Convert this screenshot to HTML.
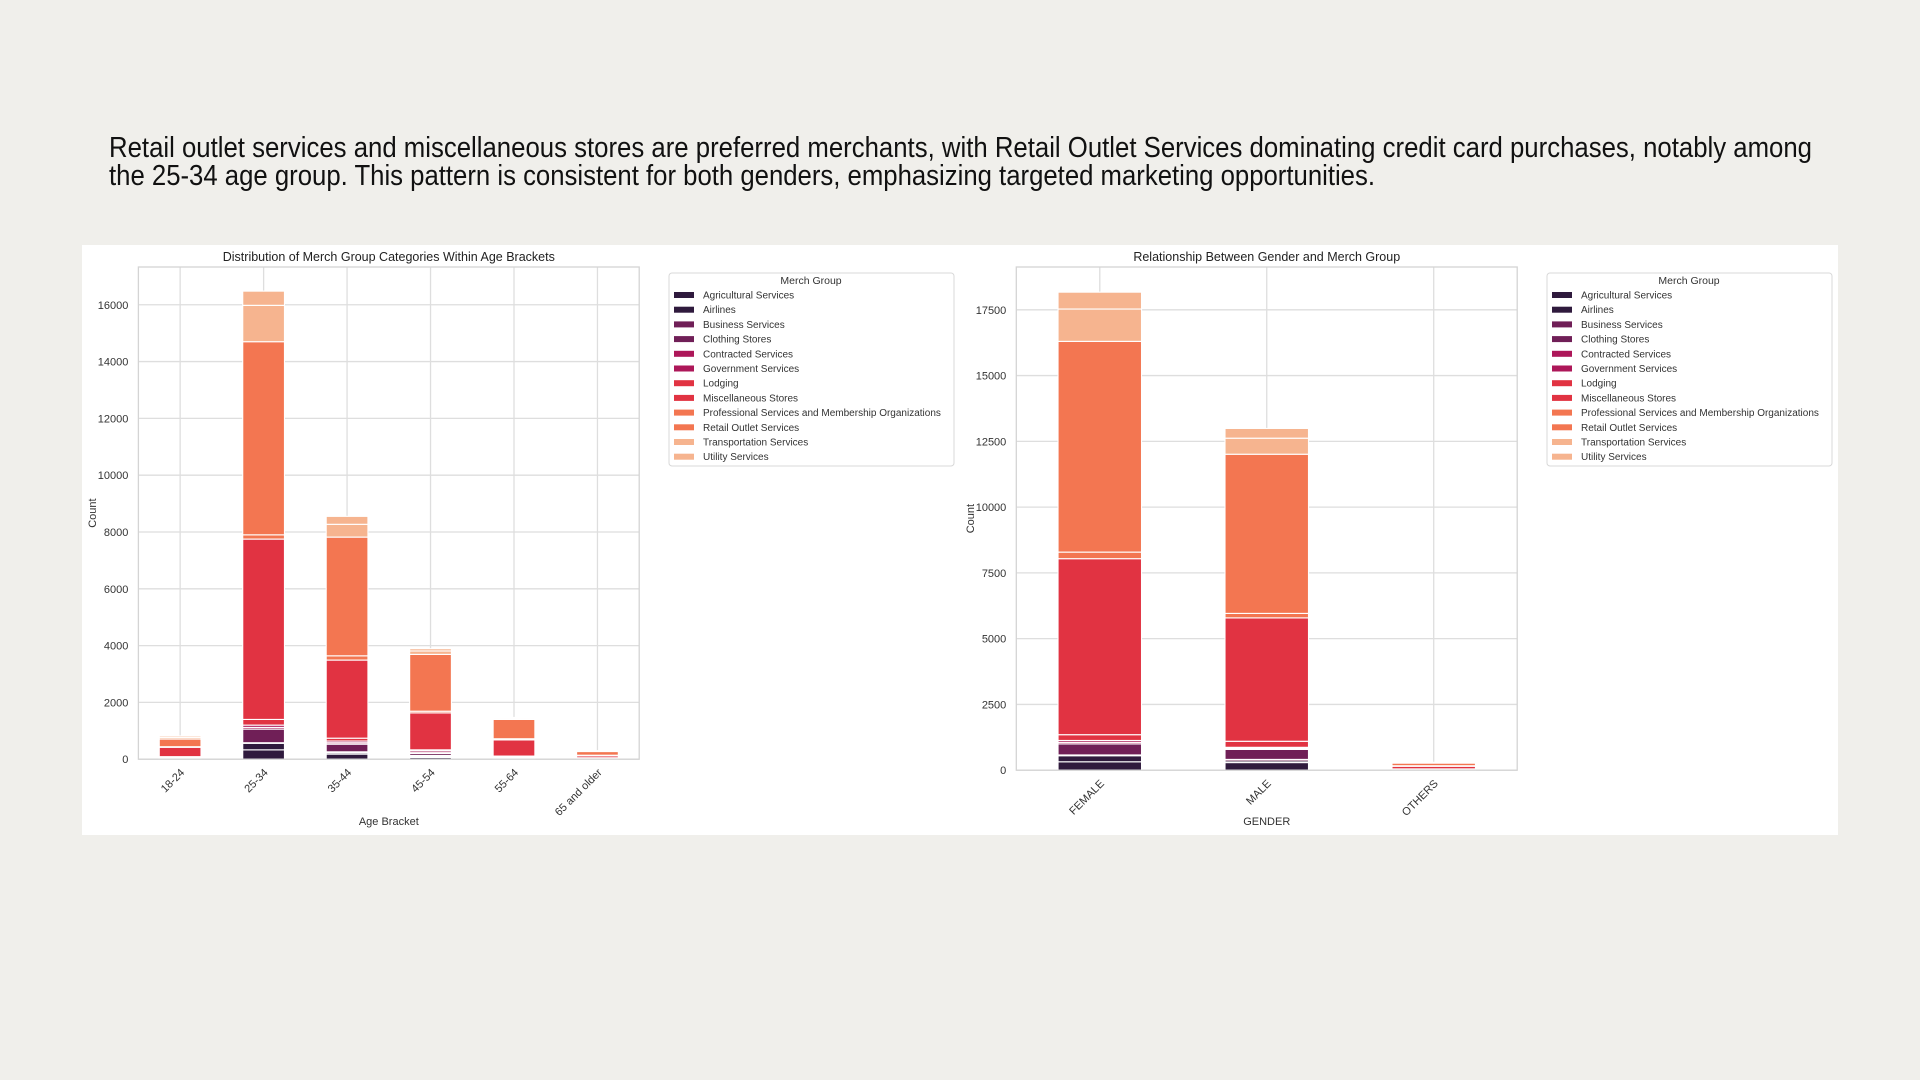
<!DOCTYPE html>
<html><head><meta charset="utf-8">
<style>
html,body{margin:0;padding:0;background:#f0efeb;width:1920px;height:1080px;overflow:hidden;font-family:"Liberation Sans",sans-serif;}
#headline{position:absolute;left:0;top:0;}
#panel{position:absolute;left:82px;top:245px;width:1756px;height:590px;background:#fff;}
svg text{font-family:"Liberation Sans",sans-serif;}
</style></head>
<body>
<svg id="headline" width="1920" height="200">
<text x="109" y="157" font-size="29" fill="#111" textLength="1703" lengthAdjust="spacingAndGlyphs">Retail outlet services and miscellaneous stores are preferred merchants, with Retail Outlet Services dominating credit card purchases, notably among</text>
<text x="109" y="185" font-size="29" fill="#111" textLength="1266" lengthAdjust="spacingAndGlyphs">the 25-34 age group. This pattern is consistent for both genders, emphasizing targeted marketing opportunities.</text>
</svg>
<div id="panel"></div>
<svg id="charts" width="1920" height="1080" style="position:absolute;left:0;top:0"></svg>
<script>
const groups = ["Agricultural Services","Airlines","Business Services","Clothing Stores","Contracted Services","Government Services","Lodging","Miscellaneous Stores","Professional Services and Membership Organizations","Retail Outlet Services","Transportation Services","Utility Services"];
const groupColors = ["#2f1a3d","#2f1a3d","#701f57","#701f57","#ad1759","#ad1759","#e13342","#e13342","#f37651","#f37651","#f6b48f","#f6b48f"];
const ageCategories = ["18-24","25-34","35-44","45-54","55-64","65 and older"];
// values per age bracket, in group order
const age1824 = [10,10,5,20,10,15,20,330,20,270,60,50];
const age2534 = [330,230,20,480,60,80,200,6350,150,6800,1280,500];
const age3544 = [180,50,30,270,50,60,100,2750,150,4180,450,280];
const age4554 = [60,40,30,70,30,60,40,1300,60,2000,120,80];
const age5564 = [20,10,10,20,10,20,20,570,40,680,40,30];
const age65up = [5,5,5,10,5,10,10,70,20,130,20,10];
const ageTicks = [0,2000,4000,6000,8000,10000,12000,14000,16000];
const genderCategories = ["FEMALE","MALE","OTHERS"];
const genderFemale = [320,230,30,420,60,70,220,6690,250,8010,1230,640];
const genderMale = [290,60,60,380,40,40,230,4690,170,6050,610,370];
const genderOthers = [5,5,5,10,5,10,10,100,20,100,10,20];
const genderTicks = [0,2500,5000,7500,10000,12500,15000,17500];

const NS="http://www.w3.org/2000/svg";
const root=document.getElementById('charts');
function mk(tag,attrs,parent){const e=document.createElementNS(NS,tag);for(const k in attrs)e.setAttribute(k,attrs[k]);(parent||root).appendChild(e);return e;}

function drawChart(cfg){
  const g=mk('g',{});
  
  
  const L=cfg.left,R=cfg.right,T=267,B=cfg.bottom;
  const n=cfg.cats.length, step=(R-L)/n;
  const xc=i=>L+step*(i+0.5);
  const y=v=>B-(v/cfg.ymax)*(B-T);
  cfg.ticks.forEach(t=>{
    mk('line',{x1:L,x2:R,y1:y(t),y2:y(t),stroke:'#dedede','stroke-width':1.3},g);
    const tl=mk('text',{x:L-10,y:y(t)+4,'font-size':11,fill:'#333','text-anchor':'end'},g);
    tl.textContent=t;
    
    
  });
  cfg.cats.forEach((c,i)=>{
    mk('line',{x1:xc(i),x2:xc(i),y1:T,y2:B,stroke:'#dedede','stroke-width':1.3},g);
  });
  const bw=step*0.5;
  cfg.series.forEach((vals,i)=>{
    let acc=0;
    vals.forEach((v,k)=>{
      const r=mk('rect',{x:xc(i)-bw/2,y:y(acc+v),width:bw,height:Math.max(0,y(acc)-y(acc+v)),fill:groupColors[k],stroke:'#fff','stroke-width':1.1},g);
      
      
      acc+=v;
    });
  });
  mk('rect',{x:L,y:T,width:R-L,height:B-T,fill:'none',stroke:'#d4d4d4','stroke-width':1.3},g);
  cfg.cats.forEach((c,i)=>{
    const tx=mk('text',{x:xc(i)+5,y:B+14,'font-size':11,fill:'#333','text-anchor':'end',transform:`rotate(-45 ${xc(i)+5} ${B+14})`},g);
    tx.textContent=c;
    
    
  });
  const title=mk('text',{x:(L+R)/2,y:261,'font-size':12.5,fill:'#222','text-anchor':'middle'},g);
  title.textContent=cfg.title;
  
  
  const xl=mk('text',{x:(L+R)/2,y:825,'font-size':11,fill:'#333','text-anchor':'middle'},g);
  xl.textContent=cfg.xlabel;
  
  
  const yx=cfg.countX, yy=(T+B)/2;
  const yl=mk('text',{x:yx,y:yy,'font-size':11,fill:'#333','text-anchor':'middle',transform:`rotate(-90 ${yx} ${yy})`},g);
  yl.textContent='Count';
  
  
  const lx=cfg.legendX, lg=mk('g',{},g);
  
  
  mk('rect',{x:lx,y:273,width:285,height:193,rx:3,fill:'#fff',stroke:'#d8d8d8'},lg);
  const lt=mk('text',{x:lx+142,y:284,'font-size':10.5,fill:'#333','text-anchor':'middle'},lg);
  lt.textContent='Merch Group';
  groups.forEach((gname,k)=>{
    const ry=295+k*14.7;
    const e=mk('g',{},lg);
    
    
    mk('rect',{x:lx+5,y:ry-3,width:20,height:6,fill:groupColors[k]},e);
    const t=mk('text',{x:lx+34,y:ry+3.5,'font-size':10,fill:'#333'},e);
    t.textContent=gname;
  });
}
drawChart({name:'age-bracket-chart',left:138.4,right:639.2,bottom:759.2,ymax:17330,cats:ageCategories,
  series:[age1824,age2534,age3544,age4554,age5564,age65up],ticks:ageTicks,countX:96,
  title:'Distribution of Merch Group Categories Within Age Brackets',xlabel:'Age Bracket',legendX:669});
drawChart({name:'gender-chart',left:1016.3,right:1517.2,bottom:770.2,ymax:19127,cats:genderCategories,
  series:[genderFemale,genderMale,genderOthers],ticks:genderTicks,countX:974,
  title:'Relationship Between Gender and Merch Group',xlabel:'GENDER',legendX:1547});
</script>
</body></html>
